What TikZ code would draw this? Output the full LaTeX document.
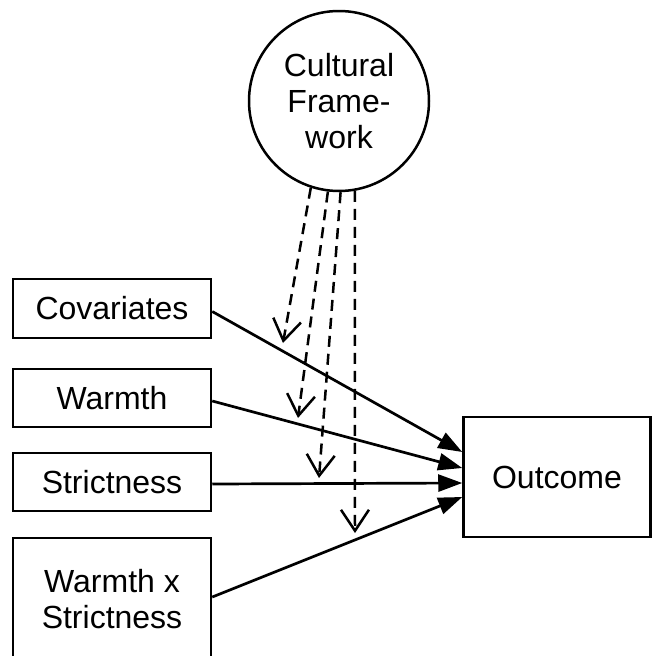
\documentclass[tikz,border=0pt]{standalone}
\usepackage{fontspec}
\setmainfont{Liberation Sans}
\usetikzlibrary{arrows.meta,calc}
\begin{document}
\begin{tikzpicture}[x=1pt,y=-1pt,
  every node/.style={font=\fontsize{32}{36}\selectfont, align=center},
  varbox/.style={draw, line width=2.5pt, minimum width=198pt, inner sep=0pt},
  circ/.style={draw, circle, line width=2.5pt, minimum size=180pt, inner sep=0pt},
  solidarr/.style={line width=2.7pt, -{Triangle[length=24pt,width=17pt]}},
  dasharr/.style={line width=2.5pt, dash pattern=on 11pt off 7pt, -{Straight Barb[length=21pt,width=28pt,line width=2.5pt]}}
]
\useasboundingbox (0,0) rectangle (651,656);
\node[circ] (CF) at (339,101) {Cultural\\Frame-\\work};
\node[varbox, minimum height=59pt] (Cov) at (112,308.5) {Covariates};
\node[varbox, minimum height=58pt] (War) at (112,398) {Warmth};
\node[varbox, minimum height=58pt] (Str) at (112,482) {Strictness};
\node[varbox, minimum height=122pt] (WxS) at (112,599) {Warmth x\\Strictness};
\node[draw, line width=2.5pt, minimum width=187pt, minimum height=120pt, inner sep=0pt] (Out) at (557,477) {Outcome};

\draw[solidarr] ($(Cov.east)+(0,3)$) -- ($(Out.west)+(0,-25)$);
\draw[solidarr] ($(War.east)+(0,3)$) -- ($(Out.west)+(0,-9)$);
\draw[solidarr] ($(Str.east)+(0,2)$) -- ($(Out.west)+(0,6)$);
\draw[solidarr] ($(WxS.east)+(0,-2)$) -- ($(Out.west)+(0,20)$);

\coordinate (t1) at (283,343);
\coordinate (t2) at (298,418);
\coordinate (t3) at (319,478);
\coordinate (t4) at (355,533);
\draw[dasharr] (CF.-108) -- (t1);
\draw[dasharr] (CF.-97) -- (t2);
\draw[dasharr] (CF.-89) -- (t3);
\draw[dasharr] (CF.-80) -- (t4);
\end{tikzpicture}
\end{document}
